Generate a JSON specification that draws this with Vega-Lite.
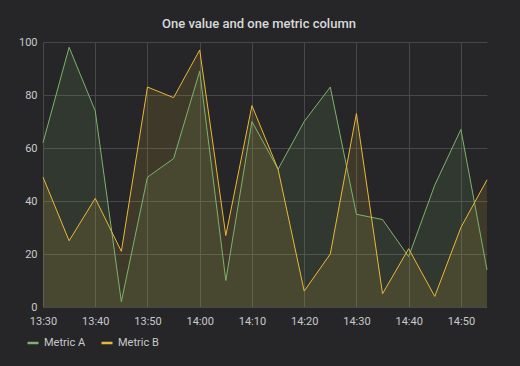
{
  "$schema": "https://vega.github.io/schema/vega-lite/v6.json",
  "width": 444,
  "height": 265,
  "autosize": "none",
  "padding": {"left": 43, "top": 42, "right": 33, "bottom": 59},
  "background": "#262628",
  "title": {
    "text": "One value and one metric column",
    "font": "Roboto",
    "fontSize": 13,
    "fontWeight": 500,
    "color": "#d8d9da",
    "anchor": "middle",
    "frame": "group",
    "dx": -6,
    "baseline": "alphabetic",
    "offset": -5
  },
  "config": {
    "view": {"stroke": null},
    "axis": {
      "labelFont": "Roboto",
      "labelFontSize": 11,
      "labelColor": "#c8c9ca",
      "gridColor": "#48484a",
      "gridWidth": 1,
      "gridOpacity": 1,
      "domain": false,
      "ticks": false,
      "title": null
    },
    "legend": {
      "labelFont": "Roboto",
      "labelFontSize": 11,
      "labelColor": "#c8c9ca"
    }
  },
  "data": {
    "format": {"parse": {"time": "date:'%Y-%m-%d %H:%M'"}},
    "values": [
      {"time": "2024-01-01 13:30", "series": "Metric A", "value": 62},
      {"time": "2024-01-01 13:35", "series": "Metric A", "value": 98},
      {"time": "2024-01-01 13:40", "series": "Metric A", "value": 74},
      {"time": "2024-01-01 13:45", "series": "Metric A", "value": 2},
      {"time": "2024-01-01 13:50", "series": "Metric A", "value": 49},
      {"time": "2024-01-01 13:55", "series": "Metric A", "value": 56},
      {"time": "2024-01-01 14:00", "series": "Metric A", "value": 89},
      {"time": "2024-01-01 14:05", "series": "Metric A", "value": 10},
      {"time": "2024-01-01 14:10", "series": "Metric A", "value": 70},
      {"time": "2024-01-01 14:15", "series": "Metric A", "value": 52},
      {"time": "2024-01-01 14:20", "series": "Metric A", "value": 70},
      {"time": "2024-01-01 14:25", "series": "Metric A", "value": 83},
      {"time": "2024-01-01 14:30", "series": "Metric A", "value": 35},
      {"time": "2024-01-01 14:35", "series": "Metric A", "value": 33},
      {"time": "2024-01-01 14:40", "series": "Metric A", "value": 19},
      {"time": "2024-01-01 14:45", "series": "Metric A", "value": 46},
      {"time": "2024-01-01 14:50", "series": "Metric A", "value": 67},
      {"time": "2024-01-01 14:55", "series": "Metric A", "value": 14},
      {"time": "2024-01-01 13:30", "series": "Metric B", "value": 49},
      {"time": "2024-01-01 13:35", "series": "Metric B", "value": 25},
      {"time": "2024-01-01 13:40", "series": "Metric B", "value": 41},
      {"time": "2024-01-01 13:45", "series": "Metric B", "value": 21},
      {"time": "2024-01-01 13:50", "series": "Metric B", "value": 83},
      {"time": "2024-01-01 13:55", "series": "Metric B", "value": 79},
      {"time": "2024-01-01 14:00", "series": "Metric B", "value": 97},
      {"time": "2024-01-01 14:05", "series": "Metric B", "value": 27},
      {"time": "2024-01-01 14:10", "series": "Metric B", "value": 76},
      {"time": "2024-01-01 14:15", "series": "Metric B", "value": 52},
      {"time": "2024-01-01 14:20", "series": "Metric B", "value": 6},
      {"time": "2024-01-01 14:25", "series": "Metric B", "value": 20},
      {"time": "2024-01-01 14:30", "series": "Metric B", "value": 73},
      {"time": "2024-01-01 14:35", "series": "Metric B", "value": 5},
      {"time": "2024-01-01 14:40", "series": "Metric B", "value": 22},
      {"time": "2024-01-01 14:45", "series": "Metric B", "value": 4},
      {"time": "2024-01-01 14:50", "series": "Metric B", "value": 30},
      {"time": "2024-01-01 14:55", "series": "Metric B", "value": 48}
    ]
  },
  "encoding": {
    "x": {
      "field": "time",
      "type": "temporal",
      "scale": {"nice": false},
      "axis": {
        "format": "%H:%M",
        "values": [
          {"year": 2024, "month": 1, "date": 1, "hours": 13, "minutes": 30},
          {"year": 2024, "month": 1, "date": 1, "hours": 13, "minutes": 40},
          {"year": 2024, "month": 1, "date": 1, "hours": 13, "minutes": 50},
          {"year": 2024, "month": 1, "date": 1, "hours": 14, "minutes": 0},
          {"year": 2024, "month": 1, "date": 1, "hours": 14, "minutes": 10},
          {"year": 2024, "month": 1, "date": 1, "hours": 14, "minutes": 20},
          {"year": 2024, "month": 1, "date": 1, "hours": 14, "minutes": 30},
          {"year": 2024, "month": 1, "date": 1, "hours": 14, "minutes": 40},
          {"year": 2024, "month": 1, "date": 1, "hours": 14, "minutes": 50}
        ],
        "labelPadding": 8,
        "labelFlush": false
      }
    },
    "y": {
      "field": "value",
      "type": "quantitative",
      "scale": {"domain": [0, 100], "nice": false},
      "axis": {"values": [0, 20, 40, 60, 80, 100], "labelPadding": 6}
    },
    "color": {
      "field": "series",
      "type": "nominal",
      "scale": {"domain": ["Metric A", "Metric B"], "range": ["#7EB26D", "#EAB839"]},
      "legend": {
        "title": null,
        "orient": "none",
        "direction": "horizontal",
        "legendX": -17,
        "legendY": 294,
        "symbolType": "stroke",
        "symbolSize": 121,
        "symbolStrokeWidth": 2.5,
        "labelOffset": 4,
        "columnPadding": 10,
        "padding": 0
      }
    }
  },
  "layer": [
    {"mark": {"type": "area", "fillOpacity": 0.13}, "encoding": {"y": {"field": "value", "type": "quantitative", "stack": null}}},
    {"mark": {"type": "line", "strokeWidth": 1}, "encoding": {}}
  ]
}
